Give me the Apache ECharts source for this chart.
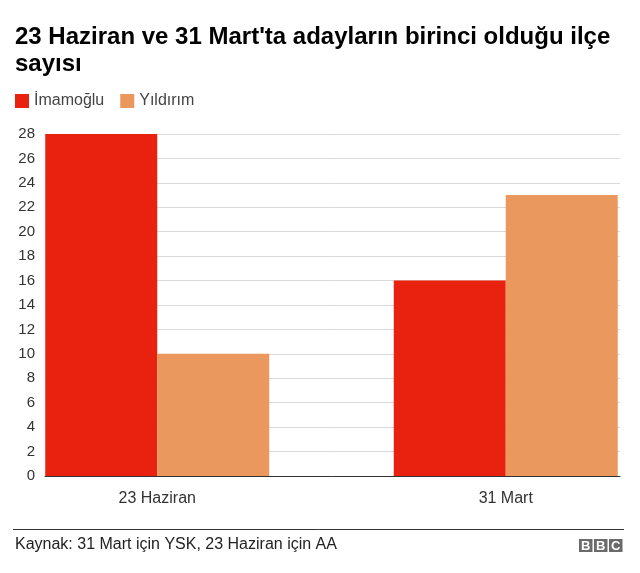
<!DOCTYPE html>
<html>
<head>
<meta charset="utf-8">
<script src="https://cdn.jsdelivr.net/npm/echarts@6/dist/echarts.min.js"></script>
<style>
html,body{margin:0;padding:0;background:#fff;}
#chart{width:640px;height:573px;}
</style>
</head>
<body>
<div id="chart"></div>
<script>
var titleText = "23 Haziran ve 31 Mart'ta adayların birinci olduğu ilçe\nsayısı";
var categories = ["23 Haziran", "31 Mart"];
var seriesNames = ["İmamoğlu", "Yıldırım"];
var imamogluValues = [28, 16];
var yildirimValues = [10, 23];
var yTicks = [0, 2, 4, 6, 8, 10, 12, 14, 16, 18, 20, 22, 24, 26, 28];
var sourceText = "Kaynak: 31 Mart için YSK, 23 Haziran için AA";

var FONT = "'Liberation Sans', Arial, Helvetica, sans-serif";
var RED = "#e9210f";
var ORANGE = "#ea985d";

var chart = echarts.init(document.getElementById('chart'), null, {renderer: 'canvas'});
var yMin = yTicks[0], yMax = yTicks[yTicks.length - 1], yStep = yTicks[1] - yTicks[0];

chart.setOption({
  backgroundColor: '#fff',
  animation: false,
  textStyle: {fontFamily: FONT},
  title: {
    text: titleText,
    left: 10, top: 19,
    textStyle: {fontFamily: FONT, fontSize: 24, fontWeight: 'bold', color: '#000', lineHeight: 27}
  },
  legend: {
    data: seriesNames,
    left: 10, top: 88,
    icon: 'rect',
    itemWidth: 14, itemHeight: 14,
    itemGap: 16,
    textStyle: {fontFamily: FONT, fontSize: 16, color: '#444'}
  },
  grid: [
    {left: 45, right: 20, top: 134, bottom: 97, outerBoundsMode: 'none'},
    {left: -17, width: 697, top: 134, bottom: 97, outerBoundsMode: 'none'}
  ],
  xAxis: [
    {gridIndex: 0, type: 'category', data: categories,
     axisLabel: {show: false}, axisTick: {show: false},
     axisLine: {show: true, lineStyle: {color: '#333', width: 1}}, splitLine: {show: false}, z: 10},
    {gridIndex: 1, type: 'category', data: categories,
     axisLine: {show: false}, axisTick: {show: false},
     axisLabel: {margin: 15, fontFamily: FONT, fontSize: 16, color: '#333'}}
  ],
  yAxis: [
    {gridIndex: 0, type: 'value', min: yMin, max: yMax, interval: yStep,
     axisLine: {show: false}, axisTick: {show: false},
     axisLabel: {margin: 10, fontFamily: FONT, fontSize: 15, color: '#333'},
     splitLine: {lineStyle: {color: '#d9d9d9', width: 1}}},
    {gridIndex: 1, type: 'value', min: yMin, max: yMax, interval: yStep, show: false,
     splitLine: {show: false}}
  ],
  series: [
    {name: seriesNames[0], type: 'bar', xAxisIndex: 1, yAxisIndex: 1, data: imamogluValues,
     barWidth: 112, barGap: '0%', itemStyle: {color: RED}},
    {name: seriesNames[1], type: 'bar', xAxisIndex: 1, yAxisIndex: 1, data: yildirimValues,
     barWidth: 112, barGap: '0%', itemStyle: {color: ORANGE}}
  ],
  graphic: [
    {type: 'line', shape: {x1: 13, y1: 529.5, x2: 624, y2: 529.5}, style: {stroke: '#333', lineWidth: 1}},
    {type: 'text', left: 15, top: 537, style: {text: sourceText, fontFamily: FONT, fontSize: 16, fill: '#222'}},
    {type: 'group', left: 579, top: 539, children: [
      {type: 'rect', shape: {x: 0, y: 0, width: 13.5, height: 13}, style: {fill: '#6b6b6b'}},
      {type: 'rect', shape: {x: 15, y: 0, width: 13.5, height: 13}, style: {fill: '#6b6b6b'}},
      {type: 'rect', shape: {x: 30, y: 0, width: 13.5, height: 13}, style: {fill: '#6b6b6b'}},
      {type: 'text', x: 6.75, y: 7, style: {text: 'B', fill: '#fff', fontFamily: FONT, fontWeight: 'bold', fontSize: 13, textAlign: 'center', textVerticalAlign: 'middle'}},
      {type: 'text', x: 21.75, y: 7, style: {text: 'B', fill: '#fff', fontFamily: FONT, fontWeight: 'bold', fontSize: 13, textAlign: 'center', textVerticalAlign: 'middle'}},
      {type: 'text', x: 36.75, y: 7, style: {text: 'C', fill: '#fff', fontFamily: FONT, fontWeight: 'bold', fontSize: 13, textAlign: 'center', textVerticalAlign: 'middle'}}
    ]}
  ]
});
</script>
</body>
</html>
